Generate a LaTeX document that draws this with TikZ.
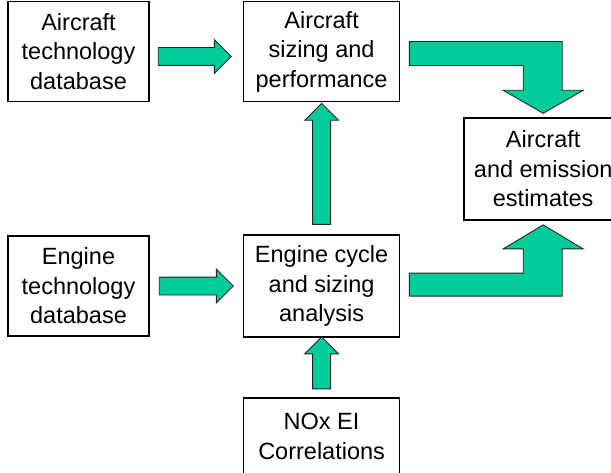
\documentclass[tikz,border=0pt]{standalone}
\usepackage{fontspec}
\setmainfont{Liberation Sans}
\usetikzlibrary{positioning,calc,shapes.arrows}
\definecolor{flowgreen}{RGB}{0,204,153}
\tikzset{
  box/.style={draw, line width=1.6pt, align=center, inner sep=0pt, font=\fontsize{23.5}{29.5}\selectfont},
  flow/.style={draw=black!85, fill=flowgreen, line width=0.9pt},
  flowarrow/.style={flow, single arrow, single arrow head extend=8pt, inner xsep=0pt, inner ysep=8.5pt}
}
\begin{document}
\begin{tikzpicture}[x=1pt, y=-1pt]
      \clip (0,0) rectangle (611,473);
      \node (acdb)[box, minimum width=141pt, minimum height=100pt] at (78.5,51.5) {Aircraft\\technology\\database};
      \node (acsz)[box, minimum width=156pt, minimum height=100pt, right=93pt of acdb] {Aircraft\\sizing and\\performance};
      \node (acem)[box, minimum width=158pt, minimum height=102pt, below right=15pt and 63pt of acsz] {Aircraft\\and emission\\estimates};
      \node (ecyc)[box, minimum width=156pt, minimum height=102pt, below=132pt of acsz] {Engine cycle\\and sizing\\analysis};
      \node (endb)[box, minimum width=141pt, minimum height=100pt, left=93pt of ecyc] {Engine\\technology\\database};
      \node (nox)[box, minimum width=156pt, minimum height=77pt, below=59pt of ecyc] {NOx EI\\Correlations};

      % straight block arrows
      \node (acin)[flowarrow, minimum height=73pt, right=8pt of acdb, yshift=-5pt] {};
      \node (enin)[flowarrow, minimum height=74pt, right=9pt of endb] {};
      \node (engup)[flowarrow, minimum height=121pt, rotate=90] at ($(ecyc.north)!.5!(acsz.south)$) {};
      \node (noxup)[flowarrow, minimum height=52pt, rotate=90] at ($(nox.north)!.5!(ecyc.south)$) {};

      % bent block arrows into the estimates
      \draw[flow] ($(acsz.east)+(9,-10)$) -| ($(acem.north)+(19,-27)$) -- ++(21,0) -- ($(acem.north)+(0,-4)$)
            -- ++(-40,-23) -- ++(20,0) |- ($(acsz.east)+(9,14)$) -- cycle;
      \draw[flow] ($(ecyc.east)+(9,-13)$) -| ($(acem.south)+(-20,28)$) -- ++(-20,0) -- ($(acem.south)+(0,4)$)
            -- ++(40,24) -- ++(-21,0) |- ($(ecyc.east)+(9,10)$) -- cycle;
\end{tikzpicture}
\end{document}
